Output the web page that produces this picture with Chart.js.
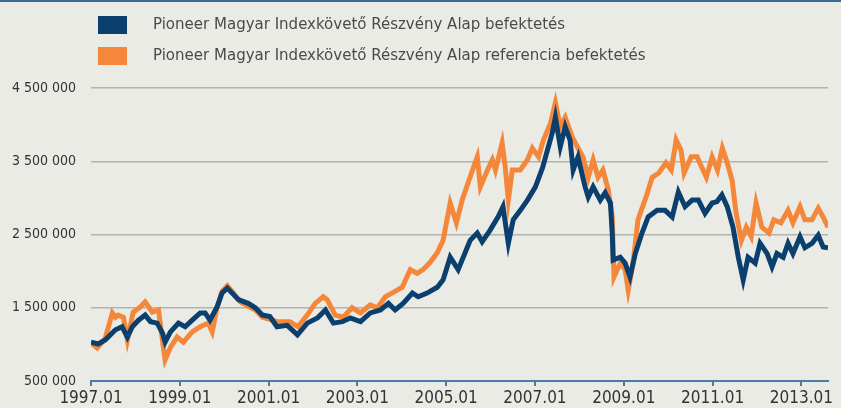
<!DOCTYPE html>
<html>
<head>
<meta charset="utf-8">
<script src="https://cdn.jsdelivr.net/npm/chart.js@4"></script>
<style>
  html, body { margin: 0; padding: 0; background: #ebebe6; }
  #wrap { width: 841px; height: 408px; }
</style>
</head>
<body>
<div id="wrap"><canvas id="fundChart" width="841" height="408"></canvas></div>
<script>
// values, dates as decimal years, values in HUF

var seriesLabels = [
    'Pioneer Magyar Indexkövető Részvény Alap befektetés',
    'Pioneer Magyar Indexkövető Részvény Alap referencia befektetés'
];

var fundDates = [1997.00, 1997.16, 1997.32, 1997.55, 1997.70, 1997.82, 1997.93, 1998.07, 1998.22, 1998.34,
    1998.49, 1998.61, 1998.67, 1998.79, 1998.97, 1999.12, 1999.28, 1999.46, 1999.57, 1999.68,
    1999.84, 1999.95, 2000.07, 2000.18, 2000.32, 2000.54, 2000.70, 2000.86, 2001.03, 2001.19,
    2001.42, 2001.65, 2001.87, 2002.10, 2002.28, 2002.46, 2002.66, 2002.84, 2003.07, 2003.29,
    2003.52, 2003.70, 2003.85, 2004.03, 2004.24, 2004.37, 2004.57, 2004.80, 2004.93, 2005.09,
    2005.27, 2005.54, 2005.70, 2005.81, 2005.99, 2006.17, 2006.28, 2006.40, 2006.51, 2006.67,
    2006.83, 2007.01, 2007.17, 2007.28, 2007.39, 2007.46, 2007.57, 2007.68, 2007.79, 2007.86,
    2007.97, 2008.13, 2008.20, 2008.31, 2008.47, 2008.58, 2008.70, 2008.74, 2008.76, 2008.92,
    2009.03, 2009.14, 2009.26, 2009.41, 2009.55, 2009.75, 2009.93, 2010.09, 2010.23, 2010.38,
    2010.54, 2010.68, 2010.83, 2010.99, 2011.10, 2011.21, 2011.33, 2011.46, 2011.58, 2011.69,
    2011.80, 2011.96, 2012.07, 2012.23, 2012.34, 2012.45, 2012.59, 2012.70, 2012.81, 2012.97,
    2013.08, 2013.24, 2013.38, 2013.49, 2013.60];
var fundValues = [1030000, 1005000, 1060000, 1200000, 1240000, 1100000, 1240000, 1330000, 1400000, 1310000,
    1290000, 1155000, 1030000, 1170000, 1290000, 1240000, 1330000, 1430000, 1430000, 1330000,
    1510000, 1700000, 1770000, 1700000, 1610000, 1560000, 1500000, 1400000, 1380000, 1240000,
    1260000, 1130000, 1290000, 1360000, 1470000, 1290000, 1310000, 1360000, 1310000, 1430000,
    1470000, 1560000, 1470000, 1560000, 1700000, 1650000, 1700000, 1780000, 1880000, 2190000,
    2020000, 2420000, 2520000, 2400000, 2560000, 2740000, 2880000, 2380000, 2700000, 2830000,
    2970000, 3150000, 3410000, 3650000, 3890000, 4100000, 3700000, 3970000, 3790000, 3380000,
    3560000, 3150000, 3010000, 3150000, 2970000, 3070000, 2930000, 2520000, 2150000, 2190000,
    2110000, 1920000, 2240000, 2520000, 2740000, 2830000, 2830000, 2740000, 3080000, 2880000,
    2970000, 2970000, 2790000, 2930000, 2950000, 3040000, 2880000, 2600000, 2190000, 1880000,
    2190000, 2110000, 2380000, 2240000, 2060000, 2240000, 2190000, 2380000, 2240000, 2470000,
    2320000, 2380000, 2490000, 2330000, 2320000];

var refDates = [1997.00, 1997.14, 1997.32, 1997.48, 1997.55, 1997.61, 1997.73, 1997.82, 1997.95, 1998.11,
    1998.22, 1998.38, 1998.52, 1998.63, 1998.67, 1998.79, 1998.94, 1999.08, 1999.28, 1999.46,
    1999.64, 1999.73, 1999.84, 1999.95, 2000.07, 2000.18, 2000.36, 2000.54, 2000.70, 2000.86,
    2001.03, 2001.19, 2001.48, 2001.66, 2001.87, 2002.05, 2002.23, 2002.32, 2002.50, 2002.68,
    2002.88, 2003.07, 2003.29, 2003.45, 2003.63, 2003.81, 2004.01, 2004.19, 2004.35, 2004.48,
    2004.64, 2004.80, 2004.93, 2005.09, 2005.23, 2005.36, 2005.57, 2005.70, 2005.77, 2005.93,
    2006.04, 2006.11, 2006.26, 2006.33, 2006.40, 2006.49, 2006.67, 2006.83, 2006.94, 2007.08,
    2007.19, 2007.35, 2007.46, 2007.57, 2007.68, 2007.84, 2007.95, 2008.08, 2008.20, 2008.31,
    2008.42, 2008.53, 2008.65, 2008.74, 2008.78, 2008.92, 2009.03, 2009.10, 2009.21, 2009.32,
    2009.50, 2009.64, 2009.79, 2009.95, 2010.07, 2010.18, 2010.29, 2010.36, 2010.52, 2010.65,
    2010.86, 2010.99, 2011.11, 2011.22, 2011.33, 2011.44, 2011.53, 2011.65, 2011.76, 2011.87,
    2011.98, 2012.11, 2012.27, 2012.38, 2012.54, 2012.70, 2012.81, 2012.97, 2013.08, 2013.24,
    2013.38, 2013.49, 2013.60];
var refValues = [1020000, 950000, 1080000, 1430000, 1370000, 1400000, 1370000, 1060000, 1440000, 1510000,
    1580000, 1440000, 1470000, 960000, 790000, 960000, 1100000, 1030000, 1170000, 1240000,
    1290000, 1170000, 1510000, 1720000, 1800000, 1720000, 1580000, 1520000, 1470000, 1370000,
    1340000, 1310000, 1310000, 1240000, 1400000, 1560000, 1650000, 1610000, 1400000, 1370000,
    1500000, 1430000, 1540000, 1500000, 1650000, 1710000, 1780000, 2020000, 1970000, 2020000,
    2120000, 2250000, 2420000, 2930000, 2660000, 2970000, 3340000, 3560000, 3150000, 3380000,
    3520000, 3380000, 3750000, 3420000, 2970000, 3380000, 3380000, 3520000, 3680000, 3560000,
    3790000, 4020000, 4300000, 3970000, 4100000, 3830000, 3700000, 3560000, 3280000, 3520000,
    3280000, 3380000, 3110000, 2740000, 1920000, 2110000, 2020000, 1740000, 2110000, 2700000,
    3010000, 3280000, 3340000, 3480000, 3380000, 3790000, 3650000, 3340000, 3560000, 3560000,
    3280000, 3560000, 3380000, 3680000, 3480000, 3240000, 2790000, 2420000, 2600000, 2470000,
    2930000, 2600000, 2520000, 2700000, 2660000, 2830000, 2660000, 2880000, 2700000, 2700000,
    2860000, 2740000, 2600000];

var xTickYears = [1997, 1999, 2001, 2003, 2005, 2007, 2009, 2011, 2013];
var yTickValues = [500000, 1500000, 2500000, 3500000, 4500000];

function toPoints(dates, values) {
    return dates.map(function (d, i) { return { x: d, y: values[i] }; });
}

// legend and top rule drawn straight on the canvas
var legendPlugin = {
    id: 'boxLegend',
    beforeDraw: function (chart) {
        var ctx = chart.ctx;
        ctx.save();
        ctx.fillStyle = '#ebebe6';
        ctx.fillRect(0, 0, chart.width, chart.height);
        ctx.fillStyle = '#3d6a94';
        ctx.fillRect(0, 0, chart.width, 2);
        ctx.restore();
    },
    afterDraw: function (chart) {
        var ctx = chart.ctx;
        ctx.save();
        ctx.font = '16.7px "Liberation Sans Narrow", "DejaVu Sans Condensed", sans-serif';
        ctx.textBaseline = 'middle';
        chart.data.datasets.forEach(function (ds, i) {
            var y = 16 + i * 31;
            ctx.fillStyle = ds.borderColor;
            ctx.fillRect(98, y, 29, 18);
            ctx.fillStyle = '#4a4a4a';
            ctx.fillText(ds.label, 153, y + 9);
        });
        ctx.restore();
    }
};

new Chart('fundChart', {
    type: 'line',
    data: {
        datasets: [
            {
                label: seriesLabels[0],
                data: toPoints(fundDates, fundValues),
                borderColor: '#0b3f6e',
                borderWidth: 5,
                pointRadius: 0,
                lineTension: 0,
                fill: false
            },
            {
                label: seriesLabels[1],
                data: toPoints(refDates, refValues),
                borderColor: '#f5873a',
                borderWidth: 5,
                pointRadius: 0,
                lineTension: 0,
                fill: false
            }
        ]
    },
    options: {
        responsive: false,
        animation: false,
        layout: { padding: { left: 0, right: 13, top: 88, bottom: 0 } },
        plugins: {
            legend: { display: false },
            tooltip: { enabled: false }
        },
        scales: {
            x: {
                type: 'linear',
                min: 1997,
                max: 2013.6,
                afterBuildTicks: function (scale) {
                    scale.ticks = xTickYears.map(function (v) { return { value: v }; });
                },
                afterFit: function (scale) { scale.height = 27; },
                grid: { drawOnChartArea: false, drawTicks: true, tickLength: 5, color: '#4a7caa', lineWidth: 2 },
                border: { display: true, color: '#4a7caa', width: 2 },
                ticks: {
                    maxRotation: 0,
                    padding: 2,
                    color: '#333333',
                    font: { family: '"Liberation Sans Narrow", "DejaVu Sans Condensed", sans-serif', size: 17 },
                    callback: function (v) { return v + '.01'; }
                }
            },
            y: {
                min: 500000,
                max: 4500000,
                afterBuildTicks: function (scale) {
                    scale.ticks = yTickValues.map(function (v) { return { value: v }; });
                },
                afterFit: function (scale) { scale.width = 91; },
                grid: { color: '#b4b4ae', lineWidth: 1.5, drawTicks: false },
                border: { display: false },
                ticks: {
                    padding: 15,
                    color: '#333333',
                    font: { family: '"Liberation Sans Narrow", "DejaVu Sans Condensed", sans-serif', size: 14 },
                    callback: function (v) { return String(v).replace(/\B(?=(\d{3})+(?!\d))/g, ' '); }
                }
            }
        }
    },
    plugins: [legendPlugin]
});
</script>
</body>
</html>
